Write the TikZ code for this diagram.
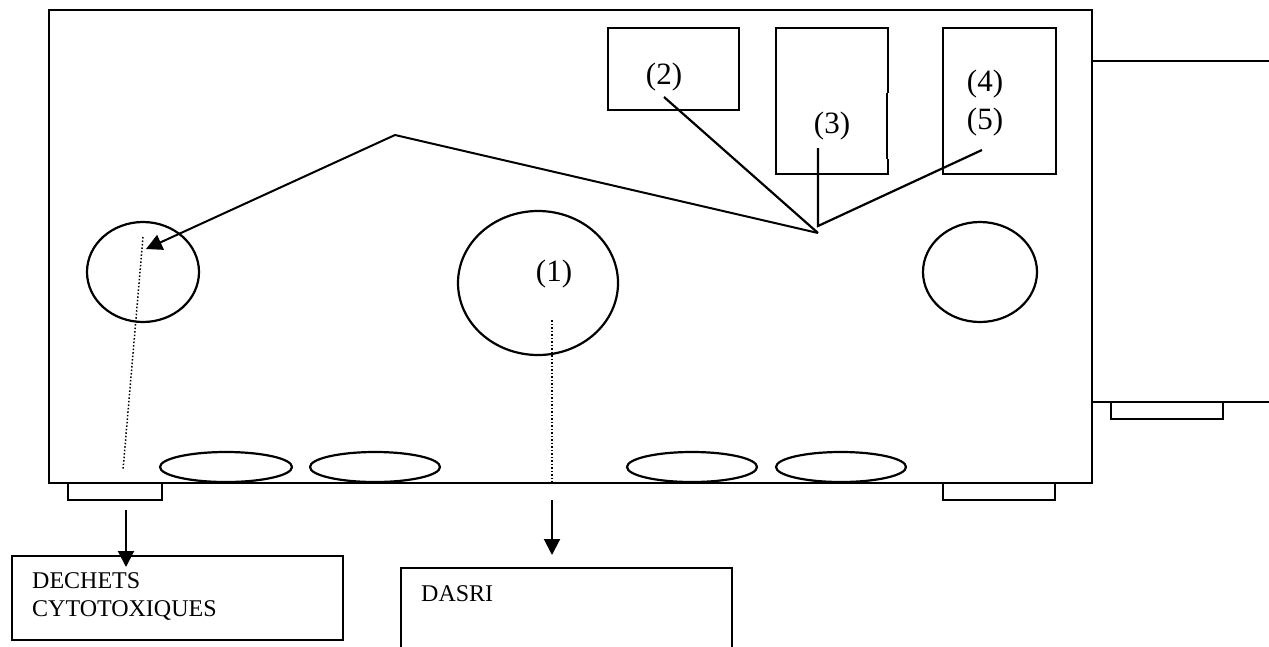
\documentclass[tikz,border=0pt]{standalone}
\usepackage{fontspec}
\setmainfont{Liberation Serif}
\usetikzlibrary{arrows.meta}
\begin{document}
\begin{tikzpicture}[x=1pt,y=-1pt,
  ln/.style={line width=2.2pt},
  thin/.style={line width=1.2pt},
  dot/.style={line width=1.5pt,dotted},
  arr/.style={line width=2pt,-{Triangle[width=16pt,length=16pt]}},
  lab/.style={font=\fontsize{31}{36}\selectfont,inner sep=0pt,anchor=base},
  txt/.style={font=\fontsize{24}{28}\selectfont,inner sep=0pt,anchor=base west,align=left}]
\useasboundingbox (0,0) rectangle (1269,646);
% main body
\draw[ln] (49,10) rectangle (1092,483) ;
% right attachment
\draw[ln] (1092,61) -- (1269,61);
\draw[ln] (1092,402) -- (1269,402);
\draw[ln] (1111,402) rectangle (1223,419);
% feet
\draw[ln] (68,483) rectangle (162,500);
\draw[ln] (943,483) rectangle (1055,500);
% box (2)
\draw[ln] (627,110) -- (608,110) -- (608,28) -- (739,28) -- (739,110) -- (721,110);
\draw[thin] (627,110) -- (721,110);
% box (3)
\draw[ln] (888,93) -- (888,28) -- (776,28) -- (776,174) -- (888,174) -- (888,159);
\draw[thin] (887,93) -- (887,159);
% box (4)(5)
\draw[ln] (943,28) rectangle (1056,174);
% labels
\node[lab] (l2) at (664,84) {(2)};
\node[lab] (l3) at (832,133) {(3)};
\node[lab] (l4) at (985,91) {(4)};
\node[lab] (l5) at (985,129) {(5)};
\node[lab] (l1) at (554,281) {(1)};
% circles / ellipses
\draw[ln] (143,272) ellipse [x radius=56, y radius=50];
\draw[ln] (980,272) ellipse [x radius=57, y radius=50];
\draw[ln] (538,283) ellipse [x radius=80, y radius=72];
\draw[ln] (226,467) ellipse [x radius=66, y radius=15];
\draw[ln] (375,467) ellipse [x radius=65, y radius=15];
\draw[ln] (692,467) ellipse [x radius=65, y radius=15];
\draw[ln] (841,467) ellipse [x radius=65, y radius=15];
% pointer lines
\coordinate (c2) at (664,97);
\coordinate (c3) at (818,148);
\coordinate (c45) at (982,150);
\coordinate (j) at (818,226);
\coordinate (e) at (818,233);
\coordinate (apex) at (395,135);
\coordinate (tipL) at (146,249);
\draw[ln] (c2) -- (e);
\draw[ln] (c3) -- (j) -- (c45);
\draw[arr] (e) -- (apex) -- (tipL);
% dotted lines
\coordinate (d1a) at (143,237);
\coordinate (d1b) at (123,470);
\draw[dot] (d1a) -- (d1b);
\coordinate (d2a) at (552,320);
\coordinate (d2b) at (552,483);
\draw[dot] (d2a) -- (d2b);
% boxes below
\draw[ln] (12,556) rectangle (343,640);
\node[txt] (t1) at (32,588) {DECHETS};
\node[txt] (t2) at (32,616) {CYTOTOXIQUES};
\draw[ln] (401,660) -- (401,568) -- (732,568) -- (732,660);
\node[txt] (t3) at (421,601) {DASRI};
% arrows
\coordinate (a1s) at (126,510);
\coordinate (a1e) at (126,567);
\draw[arr] (a1s) -- (a1e);
\coordinate (a2s) at (552,500);
\coordinate (a2e) at (552,555);
\draw[arr] (a2s) -- (a2e);
\end{tikzpicture}
\end{document}
